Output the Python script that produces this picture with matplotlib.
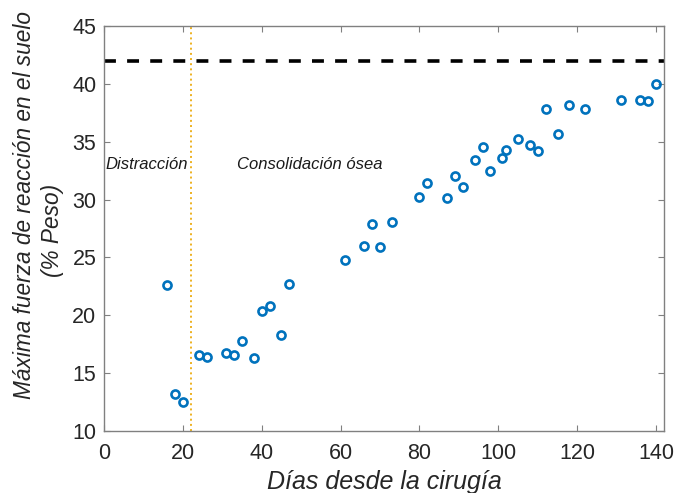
import numpy as np
import matplotlib.pyplot as plt

plt.rcParams['font.family'] = ['Liberation Sans', 'DejaVu Sans']

# dias tras la cirugia y fuerza maxima (% peso)
dias = [16, 18, 20, 24, 26, 31, 33, 35, 38, 40, 42, 45, 47,
        61, 66, 68, 70, 73, 80, 82, 87, 89, 91, 94, 96, 98,
        101, 102, 105, 108, 110, 112, 115, 118, 122, 131, 136, 138, 140]
fuerza = [22.6, 13.2, 12.5, 16.6, 16.4, 16.7, 16.6, 17.8, 16.3, 20.4, 20.8, 18.3, 22.7,
          24.8, 26.0, 27.9, 25.9, 28.1, 30.2, 31.4, 30.1, 32.0, 31.1, 33.4, 34.5, 32.5,
          33.6, 34.3, 35.2, 34.7, 34.2, 37.8, 35.7, 38.2, 37.8, 38.6, 38.6, 38.5, 40.0]
referencia = 42
dia_cambio = 22

fig = plt.figure(figsize=(6.77, 4.93), dpi=100)
ax = fig.add_axes([0.1536, 0.1258, 0.8272, 0.8215])

ax.plot(dias, fuerza, 'o', mfc='none', mec='#0072BD', ms=5.8, mew=1.9)
ax.axhline(referencia, color='black', lw=2.6, ls=(0, (3.3, 3.1)))
ax.axvline(dia_cambio, color='#EDB120', lw=1.4, ls=':')

ax.text(0.5, 33.0, 'Distracción', style='italic', fontsize=12, va='center', color='#1a1a1a')
ax.text(33.7, 33.0, 'Consolidación ósea', style='italic', fontsize=12, va='center', color='#1a1a1a')

ax.set_xlim(0, 142)
ax.set_ylim(10, 45)
ax.set_xticks(np.arange(0, 141, 20))
ax.set_yticks(np.arange(10, 46, 5))
ax.tick_params(direction='in', top=True, right=True, length=4, color='#808080',
               labelsize=15.5, labelcolor='#262626')
ax.tick_params(axis='x', pad=9)
ax.tick_params(axis='y', pad=5.5)
for s in ax.spines.values():
    s.set_color('#808080')
    s.set_linewidth(1.0)

ax.set_xlabel('Días desde la cirugía', style='italic', fontsize=18, color='#262626', labelpad=4)
# etiqueta del eje y en dos lineas, como en la figura original
fig.text(0.036, 0.584, 'Máxima fuerza de reacción en el suelo', rotation=90, style='italic',
         fontsize=16.3, color='#262626', ha='center', va='center')
fig.text(0.078, 0.533, '(% Peso)', rotation=90, style='italic',
         fontsize=16.3, color='#262626', ha='center', va='center')

fig.savefig('out.png', dpi=100)
